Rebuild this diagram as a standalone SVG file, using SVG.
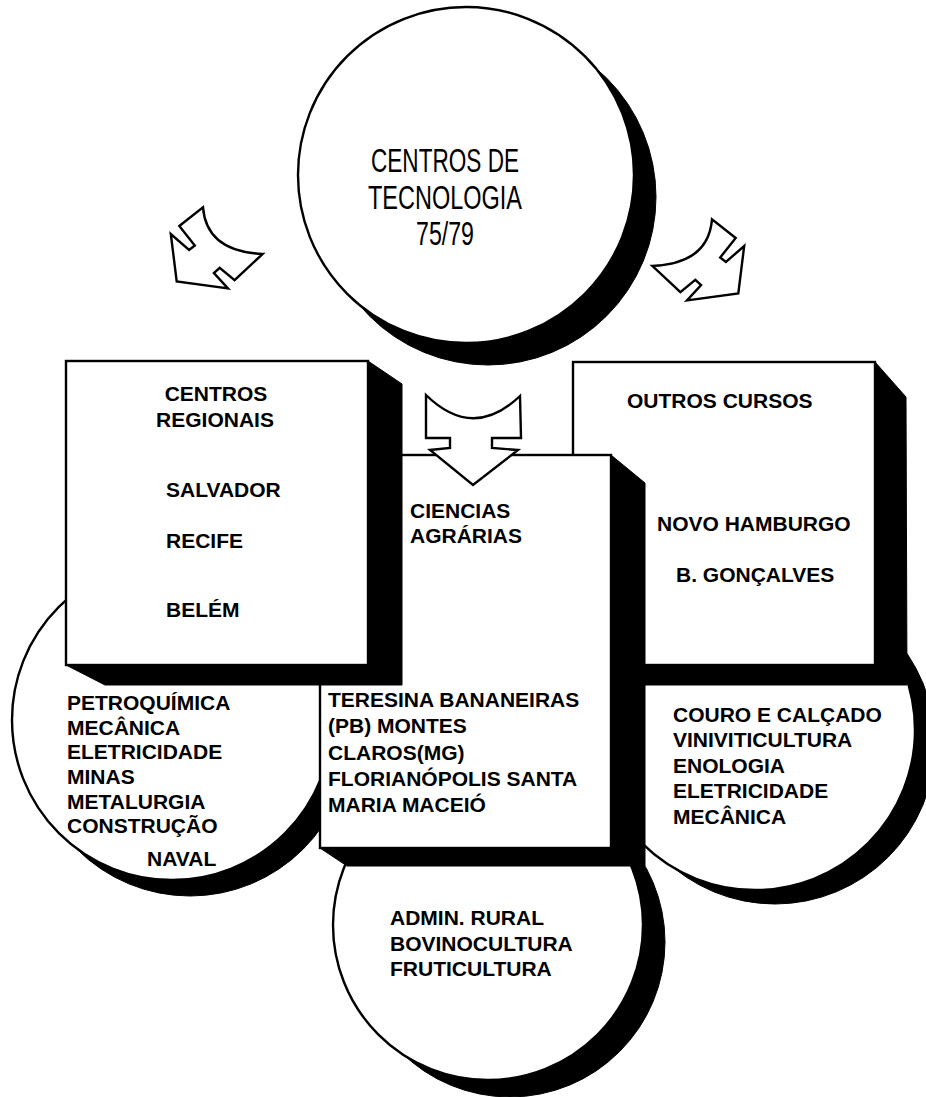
<svg xmlns="http://www.w3.org/2000/svg" width="926" height="1097" viewBox="0 0 926 1097">
<style>
.bg{fill:#fff}
.out{fill:#fff;stroke:#000;stroke-width:2.4;stroke-linejoin:miter}
.sh{fill:#000;stroke:#000;stroke-width:1}
.arr{fill:#fff;stroke:#000;stroke-width:2.4;stroke-linejoin:miter}
.t{font-family:"Liberation Sans",Arial,sans-serif;font-weight:bold;font-size:21px;fill:#000}
.title{font-family:"Liberation Sans Narrow","Liberation Sans",Arial,sans-serif;font-size:33px;fill:#000;text-anchor:middle}
</style>
<defs>
<path id="curvedArrow" d="M203,207.4 Q206.6,251.6 262.7,253.9 L234.6,280.1 L219.7,267.8 L213.9,273.1 L228,288.4 L176.7,281.4 L170.8,234 L189.1,250 L194.8,245.5 L179.3,226 Z"/>
</defs>
<rect class="bg" x="0" y="0" width="926" height="1097"/>

<g id="connectors">
  <use href="#curvedArrow" class="arr"/>
  <use href="#curvedArrow" class="arr" transform="translate(915,12) scale(-1,1)"/>
</g>

<g id="node-top">
  <circle class="sh" cx="488" cy="197" r="168"/>
  <circle class="out" cx="466" cy="175" r="168"/>
  <text class="title" x="445" y="172" textLength="148" lengthAdjust="spacingAndGlyphs">CENTROS DE</text>
  <text class="title" x="445" y="209" textLength="154" lengthAdjust="spacingAndGlyphs">TECNOLOGIA</text>
  <text class="title" x="445" y="245" textLength="58" lengthAdjust="spacingAndGlyphs">75/79</text>
</g>

<g id="node-circle-right">
  <circle class="sh" cx="775" cy="744" r="160"/>
  <circle class="out" cx="755" cy="730" r="160"/>
</g>
<g id="node-circle-left">
  <circle class="sh" cx="190" cy="736" r="160"/>
  <circle class="out" cx="172" cy="720" r="160"/>
</g>
<g id="node-circle-bottom">
  <circle class="sh" cx="510" cy="942" r="155"/>
  <circle class="out" cx="488" cy="925" r="155"/>
</g>

<g id="node-box-right">
  <polygon class="sh" points="875,362 906,397 907,685 600,685 573,665"/>
  <rect class="out" x="573" y="362" width="302" height="303"/>
</g>
<g id="node-box-middle">
  <polygon class="sh" points="611,455 645,483 645,866 347,866 320,848"/>
  <rect class="out" x="320" y="455" width="291" height="393"/>
</g>
<g id="node-box-left">
  <polygon class="sh" points="368,361 402,384 402,685 105,685 66,665"/>
  <rect class="out" x="66" y="361" width="302" height="304"/>
</g>

<g id="connector-down">
  <path class="arr" d="M426,395 Q473,441 520,396 L521,438 L492,438 L492,448 L518,450 L473,485 L430,450 L450,448 L450,438 L426,438 Z"/>
</g>

<g id="labels-left-box">
  <text class="t" x="216" y="401" text-anchor="middle">CENTROS</text>
  <text class="t" x="215" y="427" text-anchor="middle">REGIONAIS</text>
  <text class="t" x="166" y="497">SALVADOR</text>
  <text class="t" x="166" y="548">RECIFE</text>
  <text class="t" x="166" y="617">BELÉM</text>
</g>
<g id="labels-middle-box">
  <text class="t" x="410" y="518">CIENCIAS</text>
  <text class="t" x="410" y="543">AGRÁRIAS</text>
  <text class="t" x="328" y="707">TERESINA BANANEIRAS</text>
  <text class="t" x="328" y="733">(PB) MONTES</text>
  <text class="t" x="328" y="760">CLAROS(MG)</text>
  <text class="t" x="328" y="786">FLORIANÓPOLIS SANTA</text>
  <text class="t" x="328" y="812">MARIA MACEIÓ</text>
</g>
<g id="labels-right-box">
  <text class="t" x="627" y="408">OUTROS CURSOS</text>
  <text class="t" x="657" y="531">NOVO HAMBURGO</text>
  <text class="t" x="676" y="582">B. GONÇALVES</text>
</g>
<g id="labels-left-circle">
  <text class="t" x="67" y="710">PETROQUÍMICA</text>
  <text class="t" x="67" y="735">MECÂNICA</text>
  <text class="t" x="67" y="759">ELETRICIDADE</text>
  <text class="t" x="67" y="784">MINAS</text>
  <text class="t" x="67" y="809">METALURGIA</text>
  <text class="t" x="67" y="833">CONSTRUÇÃO</text>
  <text class="t" x="147" y="866">NAVAL</text>
</g>
<g id="labels-right-circle">
  <text class="t" x="673" y="722">COURO E CALÇADO</text>
  <text class="t" x="673" y="747">VINIVITICULTURA</text>
  <text class="t" x="673" y="773">ENOLOGIA</text>
  <text class="t" x="673" y="798">ELETRICIDADE</text>
  <text class="t" x="673" y="824">MECÂNICA</text>
</g>
<g id="labels-bottom-circle">
  <text class="t" x="390" y="925">ADMIN. RURAL</text>
  <text class="t" x="390" y="951">BOVINOCULTURA</text>
  <text class="t" x="390" y="976">FRUTICULTURA</text>
</g>
</svg>
